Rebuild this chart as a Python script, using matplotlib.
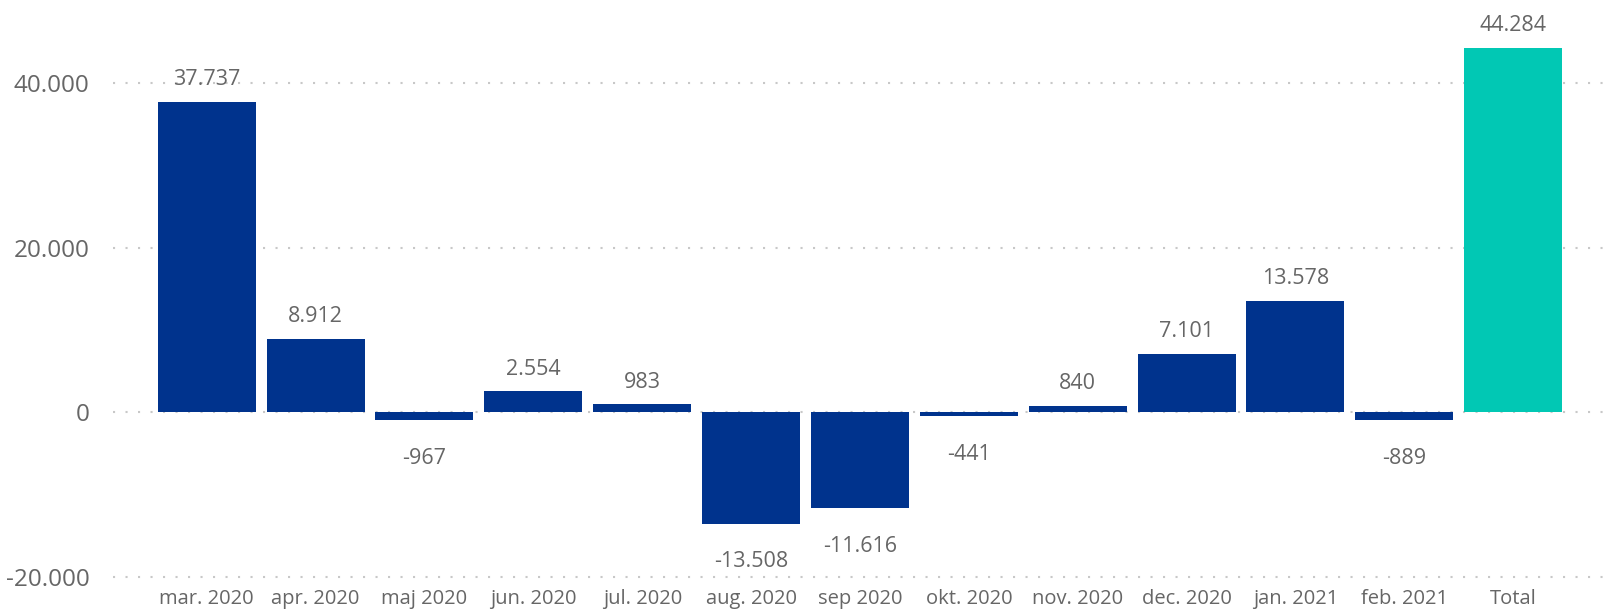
import matplotlib
matplotlib.use('Agg')
import matplotlib.pyplot as plt
from matplotlib.ticker import FuncFormatter

months = ['mar. 2020', 'apr. 2020', 'maj 2020', 'jun. 2020', 'jul. 2020', 'aug. 2020',
          'sep 2020', 'okt. 2020', 'nov. 2020', 'dec. 2020', 'jan. 2021', 'feb. 2021']
values = [37737, 8912, -967, 2554, 983, -13508, -11616, -441, 840, 7101, 13578, -889]
total_label = 'Total'
yticks = [-20000, 0, 20000, 40000]

total = sum(values)
cats = months + [total_label]
vals = values + [total]

blue = '#00338D'
teal = '#01C8B4'
textcol = '#666666'

plt.rcParams['font.family'] = ['Open Sans', 'DejaVu Sans']

def dk(v):
    # danish thousands separator
    s = '{:,.0f}'.format(v).replace(',', '.')
    return s

fig = plt.figure(figsize=(16.16, 6.14), dpi=100)
ax = fig.add_axes([0.07, 0.04, 0.925, 0.905])

colors = [blue] * len(values) + [teal]
x = range(len(cats))
ax.bar(x, vals, width=0.9, color=colors, zorder=2)

for i, v in enumerate(vals):
    if v >= 0:
        ax.annotate(dk(v), (i, v), xytext=(0, 8.5), textcoords='offset points',
                    ha='center', va='bottom', fontsize=15.5, color=textcol)
    else:
        ax.annotate(dk(v), (i, v), xytext=(0, -20), textcoords='offset points',
                    ha='center', va='top', fontsize=15.5, color=textcol)

ax.set_xlim(-0.86, len(cats) - 1 + 0.87)
ax.set_ylim(-21500, 46000)
ax.set_yticks(yticks)
ax.yaxis.set_major_formatter(FuncFormatter(lambda v, p: dk(v)))
ax.set_xticks(list(x))
ax.set_xticklabels(cats)
ax.yaxis.grid(True, color='#C8C8C8', linestyle=(0, (1, 5)), linewidth=1.5, zorder=0)
ax.set_axisbelow(True)
for s in ax.spines.values():
    s.set_visible(False)
ax.tick_params(axis='y', length=0, pad=17, labelsize=17.5, labelcolor=textcol)
ax.tick_params(axis='x', length=0, pad=0, labelsize=14.5, labelcolor=textcol)

fig.savefig('out.png', dpi=100)
